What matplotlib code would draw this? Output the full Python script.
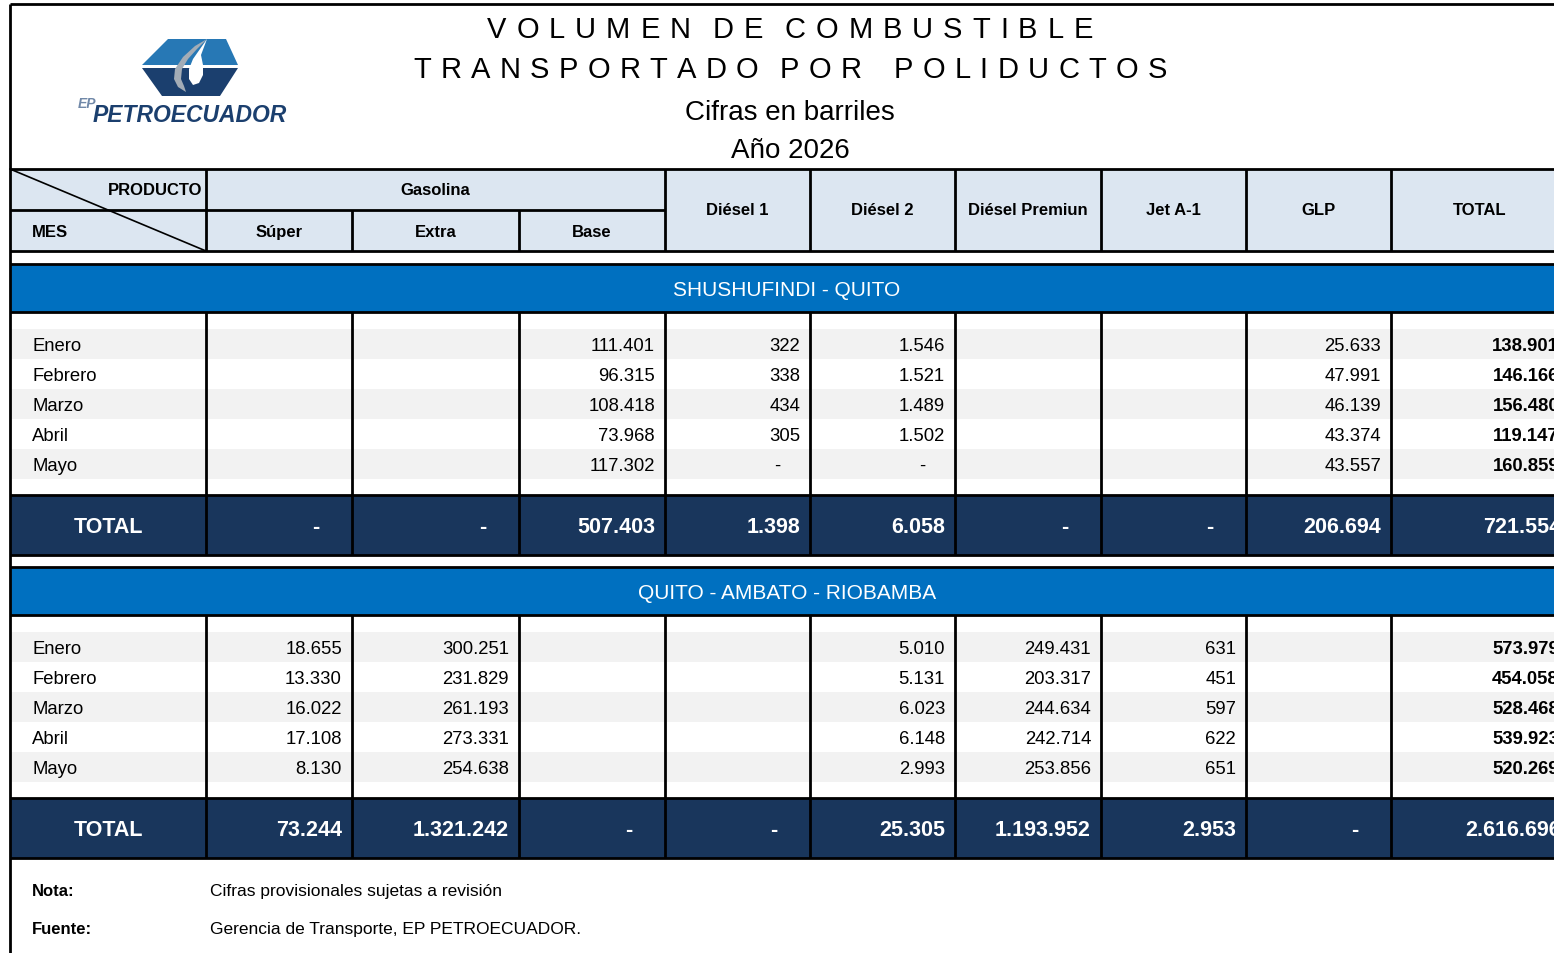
import matplotlib
matplotlib.use('agg')
import matplotlib.pyplot as plt
from matplotlib.patches import Rectangle, Polygon
from matplotlib.font_manager import FontProperties

plt.rcParams['font.family'] = ['Liberation Sans', 'DejaVu Sans']

# ---- data ----
months = ['Enero', 'Febrero', 'Marzo', 'Abril', 'Mayo']
products = ['Súper', 'Extra', 'Base', 'Diésel 1', 'Diésel 2', 'Diésel Premiun', 'Jet A-1', 'GLP', 'TOTAL']

# None = celda vacia, 0 = "-"
sq_super = [None, None, None, None, None]
sq_extra = [None, None, None, None, None]
sq_base = [111401, 96315, 108418, 73968, 117302]
sq_diesel1 = [322, 338, 434, 305, 0]
sq_diesel2 = [1546, 1521, 1489, 1502, 0]
sq_premium = [None, None, None, None, None]
sq_jet = [None, None, None, None, None]
sq_glp = [25633, 47991, 46139, 43374, 43557]
sq_total = [138901, 146166, 156480, 119147, 160859]
sq_totals = [0, 0, 507403, 1398, 6058, 0, 0, 206694, 721554]

qar_super = [18655, 13330, 16022, 17108, 8130]
qar_extra = [300251, 231829, 261193, 273331, 254638]
qar_base = [None, None, None, None, None]
qar_diesel1 = [None, None, None, None, None]
qar_diesel2 = [5010, 5131, 6023, 6148, 2993]
qar_premium = [249431, 203317, 244634, 242714, 253856]
qar_jet = [631, 451, 597, 622, 651]
qar_glp = [None, None, None, None, None]
qar_total = [573979, 454058, 528468, 539923, 520269]
qar_totals = [73244, 1321242, 0, 0, 25305, 1193952, 2953, 0, 2616696]

HEADER_BG = '#DCE6F1'
BAND_BLUE = '#0070C0'
NAVY = '#19365C'
SHADE = '#F2F2F2'

col_x = [10, 206, 352, 519, 665, 810, 955, 1101, 1246, 1391, 1568]
X_RIGHT = col_x[-1]
DY = 2.5  # baseline nudge for all texts

fig = plt.figure(figsize=(15.54, 9.54), dpi=100)
ax = fig.add_axes([0, 0, 1, 1])
ax.set_xlim(0, 1554)
ax.set_ylim(954, 0)
ax.axis('off')


def txt(x, y, s, **kw):
    kw.setdefault('va', 'center')
    return ax.text(x, y + DY, s, **kw)


def hline(y, x0=10, x1=X_RIGHT, lw=2.0):
    ax.plot([x0, x1], [y, y], color='black', lw=lw, zorder=5, solid_capstyle='butt')


def vline(x, y0, y1, lw=2.0):
    ax.plot([x, x], [y0, y1], color='black', lw=lw, zorder=5, solid_capstyle='butt')


def fmt(v):
    if v is None:
        return ''
    if v == 0:
        return '-'
    return f'{v:,}'.replace(',', '.')


def spaced_title(text, xc, y, width, size):
    # letras espaciadas para el titulo
    fp = FontProperties(family='Liberation Sans', size=size)
    r = fig.canvas.get_renderer()
    widths = [r.get_text_width_height_descent(c, fp, ismath=False)[0] if c != ' ' else 2 for c in text]
    track = (width - sum(widths)) / (len(text) - 1)
    x = xc - width / 2
    for c, w in zip(text, widths):
        if c != ' ':
            txt(x, y, c, fontproperties=fp, ha='left', color='black')
        x += w + track


# ---- outer border ----
hline(5, 10, 1554)
vline(10, 5, 954)

# ---- logo ----
ax.add_patch(Polygon([(168, 40), (226, 40), (238, 66), (142, 66)], closed=True, fc='#2778B5', ec='none'))
ax.add_patch(Polygon([(142, 69), (238, 69), (220, 97), (162, 97)], closed=True, fc='#1B3F6E', ec='none'))
ax.add_patch(Polygon([(207, 40), (195, 47), (183, 58), (175, 70), (174, 80), (178, 88), (186, 93),
                      (184, 87), (181, 80), (182, 70), (188, 60), (197, 50)], closed=True, fc='#A3ACB6', ec='none'))
ax.add_patch(Polygon([(207, 40), (200, 50), (193, 60), (189, 70), (189, 80), (193, 86), (199, 84),
                      (203, 76), (203, 66), (201, 56)], closed=True, fc='white', ec='none'))
txt(78, 101, 'EP', fontsize=10, fontstyle='italic', fontweight='bold', color='#7088A8')
txt(93, 113, 'PETROECUADOR', fontsize=16.5, fontstyle='italic', fontweight='bold', color='#1B3F6E')

# ---- titles ----
spaced_title('VOLUMEN DE COMBUSTIBLE', 790, 28, 606, 21)
spaced_title('TRANSPORTADO POR  POLIDUCTOS', 790, 68, 754, 21)
txt(790, 110, 'Cifras en barriles', fontsize=20, ha='center')
txt(790, 148, 'Año 2026', fontsize=20, ha='center')

# ---- header ----
ax.add_patch(Rectangle((10, 170), X_RIGHT - 10, 82, fc=HEADER_BG, ec='none'))
hline(170)
hline(211, 10, 665)
hline(252)
for x in [206, 665, 810, 955, 1101, 1246, 1391]:
    vline(x, 170, 252)
for x in [352, 519]:
    vline(x, 211, 252)
ax.plot([10, 206], [170, 252], color='black', lw=1.2, zorder=5)

hdr = dict(fontsize=12, fontweight='bold')
txt(202, 188, 'PRODUCTO', ha='right', **hdr)
txt(32, 230, 'MES', ha='left', **hdr)
txt(435, 188, 'Gasolina', ha='center', **hdr)
for j in range(3):
    txt((col_x[j + 1] + col_x[j + 2]) / 2, 230, products[j], ha='center', **hdr)
for j in range(3, 9):
    xc = (col_x[j + 1] + col_x[j + 2]) / 2
    if j == 8:
        xc = 1480
    txt(xc, 208, products[j], ha='center', **hdr)


def draw_section(top, title, cols, totals):
    ax.add_patch(Rectangle((10, top), X_RIGHT - 10, 48, fc=BAND_BLUE, ec='none'))
    hline(top)
    hline(top + 48)
    txt(787, top + 23, title, fontsize=15, color='white', ha='center')

    data_top = top + 48
    for i, m in enumerate(months):
        yc = data_top + 32 + 30 * i
        if i % 2 == 0:
            ax.add_patch(Rectangle((10, yc - 15), X_RIGHT - 10, 30, fc=SHADE, ec='none'))
        txt(32, yc - 1, m, fontsize=13.3, ha='left')
        for j, col in enumerate(cols):
            s = fmt(col[i])
            pad = 30 if s == '-' else 10
            xr = col_x[j + 2] - pad
            if j == 8:
                xr = 1559
            txt(xr, yc - 1, s, fontsize=13.3, ha='right',
                fontweight='bold' if j == 8 else 'normal')

    tot_top = data_top + 183
    ax.add_patch(Rectangle((10, tot_top), X_RIGHT - 10, 60, fc=NAVY, ec='none'))
    hline(tot_top)
    hline(tot_top + 60)
    for x in col_x[1:10]:
        vline(x, data_top, tot_top + 60)
    txt(109, tot_top + 29, 'TOTAL', fontsize=15.5, fontweight='bold', color='white', ha='center')
    for j, v in enumerate(totals):
        s = fmt(v)
        pad = 33 if s == '-' else 10
        xr = col_x[j + 2] - pad
        if j == 8:
            xr = 1561
        txt(xr, tot_top + 29, s, fontsize=15.5, fontweight='bold', color='white', ha='right')


draw_section(265, 'SHUSHUFINDI - QUITO',
             [sq_super, sq_extra, sq_base, sq_diesel1, sq_diesel2, sq_premium, sq_jet, sq_glp, sq_total],
             sq_totals)
draw_section(568, 'QUITO - AMBATO - RIOBAMBA',
             [qar_super, qar_extra, qar_base, qar_diesel1, qar_diesel2, qar_premium, qar_jet, qar_glp, qar_total],
             qar_totals)

# ---- notes ----
txt(32, 889, 'Nota:', fontsize=12, fontweight='bold')
txt(210, 889, 'Cifras provisionales sujetas a revisión', fontsize=12.5)
txt(32, 927, 'Fuente:', fontsize=12, fontweight='bold')
txt(210, 927, 'Gerencia de Transporte, EP PETROECUADOR.', fontsize=12.5)

fig.savefig('out.png', dpi=100)
